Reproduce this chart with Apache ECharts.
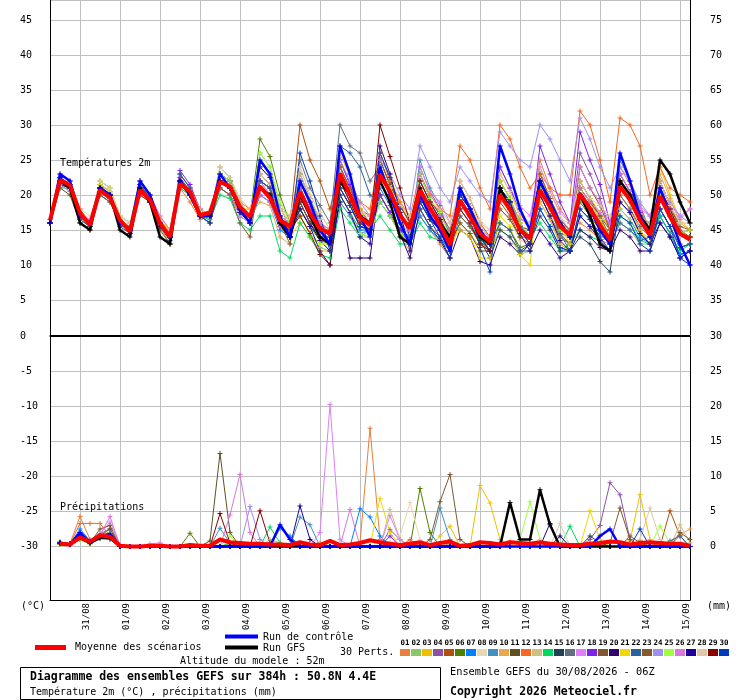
<!DOCTYPE html>
<html><head><meta charset="utf-8">
<script src="https://cdn.jsdelivr.net/npm/echarts@6/dist/echarts.min.js"></script>
<style>html,body{margin:0;padding:0;background:#fff}#c{width:740px;height:700px}</style>
</head><body><div id="c"></div>
<script>
// ---- time axis ----
const days = ['30/08','31/08','01/09','02/09','03/09','04/09','05/09','06/09','07/09','08/09','09/09','10/09','11/09','12/09','13/09','14/09','15/09'];
const runHours = ['00','06','12','18'];

// ---- member colours (01..30) ----
const memberColors = ['#e8803a','#88c868','#f0c000','#9050a8','#b05010','#508000','#0080ff','#e8d8b0','#4090c0','#e8a850','#605020','#f86820','#d0c080','#00d860','#204058','#607080','#e080f8','#8020f0','#805830','#300070','#f0d800','#2860a0','#885828','#a090f0','#a0ff40','#d878d8','#200098','#e0c8a8','#880000','#0038c0'];

// ---- temperature 2m (°C), 6-hourly from 30/08 06Z ----
const tMean = [16.4, 22.1,21.4,17.4,15.7, 20.7,19.6,16.4,14.8, 20.7,19.3,16.0,14.0, 21.6,20.5,17.1,17.5, 21.9,21.2,18.3,16.9, 21.2,19.6,16.4,15.5, 20.5,17.4,15.2,14.5, 23.1,20.0,16.8,15.7, 22.9,20.5,17.1,15.2, 20.7,18.1,15.7,12.9, 19.3,16.9,14.5,13.3, 20.0,17.9,15.0,13.8, 20.7,18.3,15.5,14.3, 20.2,18.1,15.7,13.6, 21.2,19.3,16.4,14.3, 19.8,16.9,14.5,13.6];
const tCtl = [16, 23,22,17,16, 21,20,16,15, 22,20,16,14, 22,20,17,17, 23,21,18,16, 25,23,17,14, 22,19,15,13, 27,23,17,14, 24,20,16,13, 20,17,15,12, 21,18,15,13, 27,23,18,15, 22,19,16,14, 20,18,15,13, 26,22,17,14, 21,17,13,10];
const tGfs = [16, 22,21,16,15, 21,20,15,14, 21,19,14,13, 22,20,17,17, 22,21,18,17, 21,20,16,14, 20,17,14,13, 22,20,17,16, 22,19,14,13, 21,18,16,14, 19,17,14,13, 21,18,15,14, 22,19,16,14, 20,17,13,12, 22,20,17,15, 25,23,19,16];
const t01 = [16, 22,21,17,16, 22,21,16.5,15, 21,19,15.5,13, 21,19,16.5,17, 23,22,19,18, 23,21.5,18,17, 23,19.5,16.5,14, 20,17.5,14.5,14, 25,21.5,18.5,16, 17,15,13,11, 20,18,14.5,13, 20,18,15.5,15, 25,21,18,16, 16,15,13.5,13, 24,21.5,18,15, 21,18,14.5,14];
const t02 = [16, 21,21,17,16, 21,20,17,16, 22,20,16,15, 22,21,18,17, 24,22.5,18.5,16, 26,24,18.5,15, 17,14.5,12.5,12, 19,17,14,14, 24,21,17.5,15, 23,19.5,17.5,14, 21,18.5,14.5,12, 15,14,11.5,12, 22,19,15.5,14, 24,21,18.5,15, 16,15,13,13, 21,18,14.5,14];
const t03 = [16, 22,22,18,16, 20,19,16,15, 21,20,16,14, 23,21,18,17, 21,20,18,18, 22,21,16,14, 16,14,12,12, 24,21,17.5,16, 26,22.5,19,16, 18,15.5,14,12, 16,14.5,12.5,13, 23,20.5,17,15, 19,16.5,13,12, 22,19.5,17.5,15, 20,18,15,13, 24,20,16.5,15];
const t04 = [16, 23,22,17,16, 21,20,16,15, 20,19,16,15, 23,21,18,17, 22,21,17.5,16, 20,19,15.5,15, 22,18.5,16,14, 25,21.5,18,16, 20,17.5,15,14, 24,20.5,18,14, 18,16,13,12, 21,19,15.5,14, 23,19.5,16.5,15, 26,23,19.5,15, 22,20,16.5,14, 17,14.5,11.5,12];
const t05 = [16, 22,21,18,16, 21,20,16,15, 21,19,16,14, 22,20,17,17, 21,20,17.5,17, 24,22.5,18,16, 30,25,22,18, 24,21,18,17, 20,17.5,14.5,13, 19,16.5,15,13, 22,19.5,16,14, 19,17,14,13, 20,17,14,13, 24,21,18.5,15, 23,20.5,17.5,15, 22,18.5,15,14];
const t06 = [16, 22,21,17,16, 21,20,16,15, 21,19,16,15, 21,20,17,16, 23,22,18.5,17, 28,25.5,20,16, 18,15.5,13.5,13, 21,18.5,15.5,15, 24,21,17.5,15, 22,19,17.5,15, 20,18,14,12, 16,15,12.5,13, 21,18,15,14, 19,17,15,13, 22,20,16.5,14, 21,18,14.5,14];
const t07 = [16, 22,21,17,16, 20,19,16,15, 22,20,16,14, 22,20,17,17, 23,22,18,16, 20,19,15,14, 21,18,15,13, 20,17.5,15,15, 21,18.5,15,13, 17,15,13.5,12, 17,15.5,13.5,14, 21,19,15.5,14, 18,15.5,12.5,12, 17,15.5,15,15, 18,16.5,14,13, 17,14.5,11.5,12];
const t08 = [16, 23,22,18,17, 21,20,17,16, 22,20,17,15, 21,20,17,18, 22,21,18,17, 24,22.5,18,16, 24,20,17.5,15, 26,22.5,18.5,16, 23,20,17.5,16, 20,17,16,14, 22,19.5,16.5,15, 18,16.5,13.5,13, 24,20.5,17,15, 21,19,17,15, 20,18,16,15, 22,18.5,16,16];
const t09 = [16, 22,21,17,16, 21,20,16,15, 21,19,16,14, 22,21,17,17, 21,20,17,16, 22,21,16.5,15, 23,19.5,16,13, 19,17,14.5,15, 19,17,14.5,14, 25,21,18.5,14, 19,17,13.5,12, 21,19,15,13, 20,17,14.5,14, 21,19,16.5,14, 25,22,18.5,15, 18,15.5,12.5,13];
const t10 = [16, 22,21,17,16, 22,21,17,16, 20,19,16,14, 22,21,18,17, 22,21,18,17, 19,18.5,14,13, 22,18.5,16,14, 24,21,17.5,16, 20,17.5,14,12, 22,19,16.5,13, 21,18.5,15.5,14, 22,19.5,16,14, 19,16.5,13,12, 22,19.5,17,14, 20,18,15,13, 23,19.5,16,15];
const t11 = [16, 21,20,16,15, 21,20,16,15, 20,19,15,13, 22,20,17,17, 22,21,18,17, 21,20,16,15, 19,16,14,13, 22,19,16,15, 24,21,17.5,15, 20,17,15.5,13, 16,14.5,12,12, 18,16.5,14,14, 21,18,14.5,13, 20,18,16,14, 22,20,17,15, 21,18,14.5,14];
const t12 = [16, 22,21,17,16, 21,20,16,15, 21,19,16,14, 22,20,17,17, 22,21,18,17, 22,20,17,16, 21,18,16,15, 24,21,19,18, 26,22,19,17, 23,20,18,17, 27,25,21,18, 30,28,24,21, 23,21,20,20, 32,30,25,19, 31,30,27,20, 24,21,20,19];
const t13 = [16, 22,21,17,16, 21,20,16,15, 22,20,17,15, 22,20,17,17, 24,22.5,19,17, 22,21,16.5,15, 23,19.5,16.5,14, 21,18.5,16,16, 24,21,17.5,15, 21,18,16.5,14, 20,18,15,14, 22,19.5,16,14, 20,17,14,13, 21,19,16.5,14, 22,20,17,15, 20,17,14,14];
const t14 = [16, 21.5,21,17,16, 21.5,20,16.5,15.5, 20.5,19,16,14.5, 21,20,17,16.5, 20,19.5,16,15, 17,17,12,11, 16,14,11.5,11, 18,16,14,15, 17,15,13,13, 16,14,13.5,13, 18,16,13.5,13, 21,19,15.5,14, 16,14,12,13, 15,14,13.5,14, 17,16,13.5,13, 17,14.5,12,13];
const t15 = [16.5, 22.5,21.5,17.5,16, 20.5,19.5,15.5,14.5, 21.5,19.5,15.5,13.5, 22.5,20.5,17.5,17, 22,21,18,17, 21,20,16,15, 18,15.5,14,14, 21,18.5,15.5,15, 20,17.5,15,14, 19,16.5,15,13, 20,18,13.5,11, 15,14,12,13, 17,15,12,12, 14,13,10.5,9, 19,17.5,14.5,13, 18,15.5,12.5,13];
const t16 = [16, 21.5,20.5,16.5,15.5, 21,20,16,15, 22,20,16.5,14, 22,20,17,17, 22,21,18,17, 21,20,16,15, 25,21,18.5,16, 30,27,26,22, 24,21,17.5,15, 20,17,15.5,13, 19,17,14,13, 21,19,15.5,14, 20,17,14,13, 22,19.5,17,14, 20,18,15.5,14, 21,18,14.5,14];
const t17 = [16, 22,21.5,17.5,16.5, 21,20,17,16, 21,19,16,15, 22,20,17,17, 21,20,17,16, 22,21,17,16, 20,17,14.5,13, 25,21.5,17.5,15, 23,20,16.5,14, 24,20.5,19,16, 20,18,15,14, 24,21,18.5,17, 24,20.5,17.5,16, 24,21,19,16, 22,20,18,17, 22,18.5,17,18];
const t18 = [16, 22.5,21.5,17,16, 21.5,20.5,16,15, 21.5,19.5,16,14, 23.5,21.5,18,17, 23,22,18.5,17, 22,21,16.5,15, 21,18,15.5,14, 25,21.5,17,14, 20,17.5,15,14, 23,19.5,17,13, 21,18.5,15,13, 24,21,17.5,15, 27,23,19,16, 29,25,21.5,16, 23,20.5,17.5,15, 21,18,14.5,14];
const t19 = [16, 22,21,17,16, 20,19,16,15, 21,19,16,14, 22,20,17,16, 21,20,16,14, 23,21.5,16,13, 21,18,15.5,14, 24,21,17.5,16, 25,21.5,18.5,16, 21,18,16.5,14, 17,15.5,13,13, 20,18,15.5,15, 22,19,16,15, 20,18,16,14, 22,20,17,15, 22,18.5,15.5,15];
const t20 = [16, 21.5,21,17,15.5, 21,20,16,14.5, 20.5,19,15.5,14, 22,20,17,17, 22,21,17.5,16, 22,21,16,14, 19,16,13.5,12, 19,11,11,11, 22,19,14.5,11, 18,15.5,13.5,11, 15,14,10.5,10, 14,13,11.5,13, 20,17,13.5,12, 15,14,12.5,12, 15,14,12,12, 16,14,11,12];
const t21 = [16, 22,21.5,17,16, 21.5,20.5,16.5,15.5, 21,19.5,16.5,15, 22,20,17.5,17, 23,22,18.5,17, 22,21,16.5,15, 17,14.5,13,13, 26,22.5,18,15, 24,21,16.5,13, 21,18,16,13, 15,14,11,11, 17,15.5,11.5,10, 23,19.5,15.5,13, 21,19,16.5,14, 18,16.5,14.5,14, 21,18,14.5,14];
const t22 = [16, 22,21,16.5,15.5, 21,20,16,15, 21.5,19.5,16,14, 22,20,17,17, 23,22,18.5,17, 21,20,15.5,14, 21,18,15,13, 27,26,24,20, 19,17,14.5,14, 18,15.5,14,12, 21,18.5,15,13, 16,15,12,12, 22,19,14.5,12, 18,16.5,14.5,13, 16,15,13.5,14, 18,15.5,12.5,13];
const t23 = [16, 22,21,17.5,16, 21,20,16,15.5, 21,19,16,14.5, 22.5,20.5,17,17, 22,21,18,17, 21,20,16.5,16, 19,16,15,15, 23,20,16.5,15, 25,21.5,18.5,16, 22,19,17.5,15, 20,18,14.5,13, 22,19.5,16,14, 23,19.5,16.5,15, 21,19,17,15, 21,19,17,16, 20,17,14.5,15];
const t24 = [16, 21.5,20.5,17,16, 21,20,16,15, 21,19,16,14, 22,20,17,17.5, 22,21,18,17, 22,20,17,16, 22,19,16,15, 25,22,19,17, 25,23,20,18, 27,24,21,19, 24,22,20,19, 29,27,25,24, 30,28,25,22, 31,28,24,21, 24,22,19,17, 21,19,17,16];
const t25 = [16, 22,21,17,16, 22,21,17,16, 22,20,16,15, 22,20,17,17, 23,22,18.5,17, 26,24,19,16, 17,14.5,13,13, 20,17.5,14.5,14, 19,17,14.5,14, 23,19.5,17.5,14, 20,18,14.5,13, 22,19.5,16,14, 21,18,15,14, 20,18,16,14, 22,20,17,15, 20,17,14.5,15];
const t26 = [16, 22,21,17,16, 21,20,16,15, 22,20,17,15, 22,20,17,17, 22,21,18,17, 20,19,15.5,15, 21,18,16,15, 22,19,16.5,16, 23,20,17,15, 21,18,17,15, 18,16,14,14, 21,19,16.5,16, 22,19,16,15, 21,19,17.5,16, 23,20.5,18.5,17, 21,18,16.5,18];
const t27 = [16, 22.5,21.5,17,16, 21,20,16,15, 21,19,16,14, 22,20,17,17, 22,21,17.5,16, 24,22.5,17,14, 18,15.5,12,10, 20,17.5,14,13, 27,23,17.5,12, 22,19,16.5,13, 20,18,14,12, 21,19,14.5,12, 15,13,11,12, 17,15.5,13.5,12, 19,17.5,14.5,13, 16,14,11,12];
const t28 = [16, 22,21,17,16, 22,21,17,16, 21,19,16,15, 23,21,18,17, 24,22.5,19.5,18, 23,21.5,18,17, 24,20,17.5,15, 23,20,17.5,17, 24,21,18.5,17, 22,19,18,16, 21,18.5,16,15, 23,20.5,17.5,16, 22,19,16.5,16, 22,19.5,18.5,17, 21,19,17,16, 22,18.5,16,16];
const t29 = [16, 22,21,17,16, 21,20,16,15, 21,19,16,14, 22,20,17,17, 22,21,18,17, 21,20,16,15, 17,14.5,11.5,10, 22,19,16,15, 30,25.5,21,16, 22,19,16.5,13, 18,16,13,12, 21,19,15,13, 22,19,15.5,14, 20,18,15.5,13, 22,20,16.5,14, 21,18,14.5,14];
const t30 = [16, 22,21,17,16, 21,20,16,15, 21,19,16,14, 23,21,17,16, 22,21,18,17, 22,21,16,14, 26,22,17,12, 21,18.5,15.5,15, 26,22.5,18,14, 19,16.5,14,11, 20,18,12.5,9, 21,19,15,13, 18,15.5,12.5,12, 18,16.5,14,12, 17,16,13,12, 18,15.5,11,10];

// ---- precipitation (mm / 6h) ----
const pMean = [null, .4,.3,1.3,.7, 1.6,1.4,.1,0, 0,.1,.1,0, 0,.2,.1,.1, 1,.6,.5,.4, .4,.3,.3,.2, .6,.3,.2,.8, .2,.3,.5,.9, .6,.4,.2,.4, .6,.2,.5,.7, .1,.2,.6,.5, .3,.6,.5,.4, .6,.4,.3,.2, .2,.4,.5,.7, .6,.3,.5,.6, .5,.4,.4,.1];
const pCtl = [null, .5,.3,2,.6, 1.5,1.8,0,0, 0,0,0,0, 0,0,0,0, 0,0,0,0, 0,0,3.1,1, 0,0,0,0, 0,0,0,0, 0,0,0,0, 0,0,0,0, 0,0,0,0, 0,0,0,0, 0,0,0,0, 0,0,1.5,2.5, 0,0,0,0, 0,0,0,0];
const pGfs = [null, .4,.3,1.2,.5, 1.2,1.2,0,0, 0,0,0,0, 0,0,0,0, 0,0,0,0, 0,0,0,0, 0,0,0,0, 0,0,0,0, 0,0,0,0, 0,0,0,0, 0,0,0,0, 0,6.3,1,1, 8.1,3.1,0,0, 0,0,0,0, 0,0,0,0, 0,0,0,0];
const p01 = [null, .5,.4,4.3,1, 1.5,1.2,0,0, 0,0,0,0, 0,0,0,0, 0,.3,0,0, 0,0,0,0, 0,.2,.5,0, 0,0,.5,16.9, 1,.3,0,0, 0,0,0,.4, 0,0,0,0, .3,0,0,0, 0,0,0,0, 0,.5,0,0, 0,0,0,0, 0,.4,0,0];
const p02 = [null, .4,.3,1.2,.5, 1.5,2,0,0, 0,0,0,0, 0,0,0,0, 0,0,0,0, 0,1,.5,0, 0,0,0,0, 0,0,0,0, 0,.5,0,0, 0,0,0,0, 0,0,0,0, .5,0,0,0, 0,0,0,0, 0,0,0,0, 0,0,0,0, 0,0,0,0];
const p03 = [null, .3,.2,1,.4, 1.2,1,0,0, 0,0,0,0, 0,0,0,0, 0,0,0,0, 0,0,0,0, 0,0,0,0, 0,0,0,0, 0,0,0,0, 0,0,1.5,2.9, 0,0,8.7,6.2, 1,0,0,0, 0,0,0,0, 0,0,0,0, 0,.8,7.4,1, 0,0,0,0];
const p04 = [null, .5,.4,1.5,.8, 1.8,2.5,0,0, 0,0,0,0, 0,0,0,0, 0,0,0,0, 0,0,0,0, 0,0,0,0, 0,0,0,0, 0,2.4,1,0, 0,0,0,0, 0,0,0,0, .5,0,0,0, 0,0,0,0, 0,1,3,9.1, 7.4,1,0,0, 0,0,0,0];
const p05 = [null, .4,.3,1,.6, 1.4,1.5,0,0, 0,0,0,0, 0,0,0,0, 0,0,0,0, 0,0,0,0, 0,0,0,0, 0,0,0,0, 0,0,0,0, 0,0,0,0, 0,0,0,0, 0,0,0,0, 0,0,0,0, 0,0,0,0, 0,0,.8,.5, 0,5.1,1.5,0];
const p06 = [null, .6,.4,1.3,.5, 1.5,1.6,0,0, 0,0,0,0, 0,1.9,0,0, 0,0,0,0, 0,0,0,0, 0,0,0,0, 0,0,0,0, 0,0,0,0, 8.3,2,0,0, 0,0,0,0, 0,0,0,0, .5,0,0,0, 0,0,0,0, 0,0,.6,0, 0,0,0,0];
const p07 = [null, .5,.3,2.5,.8, 1.6,1.5,0,0, 0,0,0,0, 0,0,0,0, 0,0,0,0, 0,0,2.6,1.5, 0,0,0,0, 0,0,5.4,4.2, 1.5,0,0,0, 0,0,0,0, 0,0,0,0, 0,0,0,0, 0,0,0,0, 0,0,0,0, 0,0,0,0, 0,0,0,0];
const p08 = [null, .3,.3,1.1,.5, 1.3,1.2,0,0, 0,0,0,0, 0,0,0,0, 0,0,0,0, 0,0,0,0, 0,0,0,0, 0,0,0,0, 0,0,1.5,6.3, 1,0,0,0, 0,0,0,0, 0,0,0,0, 0,0,0,0, 0,0,0,0, 0,0,0,0, 0,0,0,0];
const p09 = [null, .4,.3,1.4,.7, 1.5,1.4,0,0, 0,0,0,0, 0,0,0,0, 2.6,.5,0,0, 0,0,0,0, 4.2,3.1,0,0, 0,0,0,0, 0,0,0,0, 0,0,5.5,1, 0,0,0,0, 0,0,0,0, 0,0,0,0, 0,0,0,0, 0,0,0,0, 0,0,0,0];
const p10 = [null, .5,.4,1.8,.6, 1.7,1.6,.2,0, 0,0,0,0, 0,0,0,0, 0,0,0,0, 0,0,0,0, 0,0,0,0, 0,0,0,0, 0,0,0,0, 0,0,0,0, 0,0,0,0, 0,.8,0,0, 0,0,0,0, 0,0,0,0, 0,0,0,0, 0,0,1.6,2.5];
const p11 = [null, .5,.4,1.6,.6, 1.5,2.5,0,0, 0,0,0,0, 0,0,0,.8, 13.3,2,0,0, 0,0,0,0, 0,0,0,0, 0,0,0,0, 0,0,0,0, 0,0,0,0, 0,0,0,0, 0,0,0,0, 0,0,0,0, 0,0,0,0, 0,0,0,0, 0,0,0,0];
const p12 = [null, .6,.3,3.3,3.3, 3.3,1.5,0,0, 0,0,0,0, 0,0,0,0, 0,0,0,0, 0,0,0,0, 0,0,0,0, 0,0,0,0, 0,0,0,1, 0,0,0,0, 0,0,0,0, 0,0,0,0, 0,0,0,0, 0,0,0,0, 0,0,0,0, 0,.4,0,0];
const p13 = [null, .4,.3,1.2,.6, 1.4,1.3,0,0, 0,0,0,0, 0,0,0,0, 0,0,0,0, 0,0,0,0, 0,0,0,0, 0,0,0,0, 0,5.3,1,0, 0,0,0,0, 0,0,0,0, 0,0,0,0, 0,0,0,0, 0,0,0,0, 0,0,0,0, 0,0,3.1,.5];
const p14 = [null, .3,.2,1,.4, 1.2,1,0,0, 0,0,0,0, 0,0,0,0, 0,.5,0,0, 0,2.8,.5,0, 0,0,0,0, 0,0,0,0, 0,0,0,0, 0,0,0,0, 0,0,0,0, 0,0,0,0, 0,0,0,2.9, 0,0,0,0, 0,0,0,0, 0,0,0,0];
const p15 = [null, .5,.3,1.3,.5, 1.4,1.2,0,0, 0,0,0,0, 0,0,0,0, 0,0,0,0, 0,0,0,0, 0,0,0,0, 0,0,0,0, 0,0,0,0, 0,0,0,0, 0,0,0,0, 0,0,0,0, 0,0,0,0, 0,1.5,.5,0, 0,0,0,0, 0,0,0,0];
const p16 = [null, .4,.3,1.5,.6, 1.5,1.3,0,0, 0,0,0,0, 0,0,0,0, 0,0,0,0, 0,0,0,0, 0,0,0,0, 0,0,0,0, 0,0,0,0, 0,0,0,0, 0,0,0,0, 0,0,0,0, 0,0,0,0, 0,0,0,0, 0,0,0,0, 0,0,0,0];
const p17 = [null, .5,.3,1.4,.5, 1.8,3.5,.3,0, 0,.4,.5,0, 0,0,0,0, 0,0,0,0, 0,0,0,0, 0,0,2,20.3, 1,0,0,0, 0,4.4,1,0, 0,0,0,0, 0,0,0,0, 0,0,0,0, 0,0,0,0, 0,0,0,0, 0,0,0,0, 0,0,0,0];
const p18 = [null, .4,.3,1.2,.5, 1.2,1.1,0,0, 0,0,0,0, 0,0,0,0, 0,0,0,0, 0,0,0,0, 0,0,0,0, 0,0,0,0, 0,1.5,0,0, 0,0,0,0, 0,0,0,0, 0,0,0,0, 0,0,0,0, 0,0,0,0, 0,0,0,0, 0,0,0,0];
const p19 = [null, .4,.3,1.3,.5, 2.5,3,0,0, 0,0,0,0, 0,0,0,0, 0,0,0,0, 0,0,0,0, 0,0,0,0, 0,0,0,0, 0,0,0,0, 0,1,6.4,10.3, 1,0,0,0, 0,0,0,0, 0,0,0,0, 0,0,0,.5, 5.5,1,0,0, 0,0,0,0];
const p20 = [null, .5,.3,1.6,.5, 1.5,1.4,0,0, 0,0,0,0, 0,0,0,0, 0,0,0,0, 0,0,0,0, 0,0,0,0, 0,0,0,0, 0,0,0,0, 0,0,0,0, 0,0,0,0, 0,0,0,0, 0,0,1.5,0, 0,0,0,0, 0,0,0,0, 0,0,0,0];
const p21 = [null, .3,.3,1.1,.4, 1.3,1.2,0,0, 0,0,0,0, 0,0,0,0, 0,0,0,0, 0,0,0,0, 0,0,0,0, 0,0,0,0, 6.9,2,0,0, 0,0,0,0, 0,0,0,0, 0,0,0,0, 0,0,0,0, 0,5.1,1,0, 0,0,0,0, 0,0,0,0];
const p22 = [null, .5,.4,1.5,.6, 1.5,1.5,0,0, 0,0,0,0, 0,0,0,0, 0,0,0,0, 0,0,0,0, 0,0,0,0, 0,0,0,0, 0,0,0,0, 0,0,0,0, 0,0,0,0, 0,0,0,0, 0,0,0,0, 0,0,0,0, 0,0,0,0, 0,.8,1.5,0];
const p23 = [null, .4,.3,1.8,.6, 1.5,1.4,0,0, 0,0,0,0, 0,0,0,0, 0,0,0,0, 0,0,0,0, 0,0,0,0, 0,0,0,0, 0,0,0,0, 0,0,0,0, 0,0,0,0, 0,0,0,0, 0,0,0,0, 0,0,0,0, 0,1.5,.5,0, 0,0,2,1];
const p24 = [null, .4,.3,1.3,.5, 1.6,1.5,0,0, 0,0,0,0, 0,0,0,0, 0,0,0,5.7, 1,0,0,0, 0,0,0,0, 0,0,0,0, 0,0,0,0, 0,0,0,0, 0,0,0,0, 0,0,0,0, 0,0,0,0, 0,0,0,0, 0,0,0,0, 0,0,0,0];
const p25 = [null, .3,.3,.9,.4, 1.2,1.3,0,0, 0,0,0,0, 0,0,0,0, 0,1.5,0,0, 0,0,0,0, 0,0,0,0, 0,0,0,0, 0,0,0,0, 0,0,0,0, 0,0,0,0, 0,0,1,6.4, 1,0,0,0, 0,0,0,0, 0,0,0,0, 2.9,.5,0,0];
const p26 = [null, .5,.3,1.5,.7, 1.6,4.3,0,0, 0,0,0,0, 0,0,0,0, 0,4.5,10.3,2, 0,0,0,0, 0,0,0,0, 0,5.3,0,0, 0,0,0,0, 0,0,0,0, 0,0,0,0, 0,0,0,0, 0,0,0,0, 0,0,0,0, 0,0,0,0, 0,0,0,0];
const p27 = [null, .5,.4,1.6,.6, 1.4,1.4,0,0, 0,0,0,0, 0,0,0,0, 0,0,0,0, 0,0,0,0, 5.8,1,0,0, 0,0,0,0, 0,0,0,0, 0,0,0,0, 0,0,0,0, 0,0,0,0, 0,3.3,0,0, 0,0,0,0, 0,0,0,0, 0,0,0,0];
const p28 = [null, .4,.3,1.2,.5, 1.3,1.2,0,0, 0,0,0,0, 0,0,0,0, 0,0,0,0, 0,0,0,0, 0,0,0,0, 0,0,0,0, 0,0,0,0, 0,0,0,0, 0,0,0,0, 0,0,0,0, 0,0,3.3,0, 0,0,0,0, 0,0,1,5.5, 1,0,0,0];
const p29 = [null, .5,.3,1.4,.5, 1.4,1.4,0,0, 0,0,0,0, 0,0,0,0, 4.7,.5,0,0, 5.1,.5,0,0, 0,0,0,0, 0,0,0,0, 0,0,0,0, 0,0,0,0, 0,0,0,0, 0,0,0,0, 0,0,0,0, 0,0,0,0, 0,0,0,0, 0,0,0,0];
const p30 = [null, .6,.4,1.6,.7, 1.5,1.3,0,0, 0,0,0,0, 0,0,0,0, 0,0,0,0, 0,0,0,0, 0,0,0,0, 0,0,0,0, 0,0,0,0, 0,0,0,0, 0,0,0,0, 0,0,0,0, 0,0,0,0, 0,0,0,0, 0,0,2.5,0, 0,0,0,0];

const tMembers = [t01,t02,t03,t04,t05,t06,t07,t08,t09,t10,t11,t12,t13,t14,t15,t16,t17,t18,t19,t20,t21,t22,t23,t24,t25,t26,t27,t28,t29,t30];
const pMembers = [p01,p02,p03,p04,p05,p06,p07,p08,p09,p10,p11,p12,p13,p14,p15,p16,p17,p18,p19,p20,p21,p22,p23,p24,p25,p26,p27,p28,p29,p30];

// categories: 30/08 06Z .. 15/09 06Z every 6h
const cats = [];
for (let d = 0; d < days.length; d++) for (let h = 0; h < 4; h++) {
  if (d === 0 && h === 0) continue;
  if (cats.length >= tMean.length) break;
  cats.push(days[d] + ' ' + runHours[h]);
}

const MONO = '"DejaVu Sans Mono", "Liberation Mono", monospace';
const GRID = '#c0c0c0';
const PLUS = 'path://M2,0H3V2H5V3H3V5H2V3H0V2H2Z';
const isDay = (i, v) => String(v).endsWith(' 00');
const PX = 7;            // pixels per unit on both panels
const TOP_H = 335;       // height of the temperature panel
const TOP_MAX = TOP_H / PX;

function ser(name, data, color, width, xi, yi, z, sym) {
  return {
    name, type: 'line', data, xAxisIndex: xi, yAxisIndex: yi, z,
    clip: false, animation: false, silent: true, connectNulls: false,
    lineStyle: { color, width }, itemStyle: { color },
    symbol: sym ? PLUS : 'none', symbolSize: 5, showSymbol: !!sym, showAllSymbol: true
  };
}

const series = [];
tMembers.forEach((d, k) => series.push(ser('T' + (k + 1), d, memberColors[k], 1, 0, 0, 2, true)));
series.push(ser('T GFS', tGfs, '#000000', 2.5, 0, 0, 3, true));
series.push(ser('T Ctl', tCtl, '#0000ff', 2.5, 0, 0, 3, true));
series.push(ser('T Mean', tMean, '#ff0000', 4, 0, 0, 4, false));
pMembers.forEach((d, k) => series.push(ser('P' + (k + 1), d, memberColors[k], 1, 1, 3, 2, true)));
series.push(ser('P GFS', pGfs, '#000000', 2.5, 1, 3, 3, true));
series.push(ser('P Ctl', pCtl, '#0000ff', 2.5, 1, 3, 3, true));
series.push(ser('P Mean', pMean, '#ff0000', 4, 1, 3, 4, false));

const lbl = { fontFamily: MONO, fontSize: 10, color: '#000' };
function xAx(gi, pos, labels) {
  return {
    type: 'category', gridIndex: gi, data: cats, boundaryGap: false, position: pos,
    axisLine: { show: true, lineStyle: { color: '#000', width: 1 } },
    axisTick: { show: false },
    axisLabel: labels ? { show: true, interval: isDay, rotate: 90, formatter: v => v.split(' ')[0],
      fontFamily: MONO, fontSize: 9, color: '#000', margin: 3, verticalAlign: 'top', padding: [2, 0, 0, 0] } : { show: false },
    splitLine: { show: true, interval: isDay, lineStyle: { color: GRID, width: 1 } }
  };
}
function yAx(gi, pos, min, max, showLabels, split) {
  return {
    type: 'value', gridIndex: gi, position: pos, min, max, interval: 5,
    axisLine: { show: true, onZero: false, lineStyle: { color: '#000', width: 1 } },
    axisTick: { show: false },
    axisLabel: showLabels ? Object.assign({ align: 'left', margin: pos === 'left' ? 30 : 20, padding: [6, 0, 0, 0] }, lbl) : { show: false },
    splitLine: { show: split, lineStyle: { color: GRID, width: 1 } }
  };
}

const yAxes = [
  yAx(0, 'left', 0, TOP_MAX, true, true),
  yAx(0, 'right', 30, 30 + TOP_MAX, true, false),
  yAx(1, 'left', -30, 0, true, true),
  yAx(1, 'right', 0, 30, true, false),
  yAx(2, 'left', 0, 5, false, false),
  yAx(2, 'right', 0, 5, false, false)
];
yAxes[0].axisLabel.showMinLabel = false;
yAxes[0].axisLabel.showMaxLabel = false;
yAxes[1].axisLabel.showMinLabel = false;
yAxes[1].axisLabel.showMaxLabel = false;

function txt(x, y, text, font, align) {
  return { type: 'text', x: 0, y: 0, silent: true, z: 10,
    style: { x, y, text, font, fill: '#000', align: align || 'left', verticalAlign: 'middle',
      textAlign: align || 'left', textVerticalAlign: 'middle' } };
}
const F10 = '10px ' + MONO;
const graphics = [
  txt(60, 163, 'Températures 2m', F10),
  txt(60, 507, 'Précipitations', F10),
  txt(21, 606, '(°C)', F10),
  txt(707, 606, '(mm)', F10),
  { type: 'rect', silent: true, shape: { x: 35, y: 645, width: 31, height: 5 }, style: { fill: '#ff0000' } },
  txt(75, 647.5, 'Moyenne des scénarios', F10),
  { type: 'rect', silent: true, shape: { x: 225, y: 634.5, width: 33, height: 4 }, style: { fill: '#0000ff' } },
  txt(263, 637, 'Run de contrôle', F10),
  { type: 'rect', silent: true, shape: { x: 225, y: 645.5, width: 33, height: 4 }, style: { fill: '#000000' } },
  txt(263, 648, 'Run GFS', F10),
  txt(180, 661, 'Altitude du modele : 52m', F10),
  txt(340, 652, '30 Perts.', F10),
  { type: 'rect', silent: true, shape: { x: 20.5, y: 667.5, width: 420, height: 32 }, style: { fill: 'none', stroke: '#000', lineWidth: 1 } },
  txt(30, 677.5, 'Diagramme des ensembles GEFS sur 384h : 50.8N 4.4E', 'bold 11.5px ' + MONO),
  txt(30, 692, 'Température 2m (°C) , précipitations (mm)', F10),
  txt(450, 672, 'Ensemble GEFS du 30/08/2026 - 06Z', '10.3px ' + MONO),
  txt(450, 692, 'Copyright 2026 Meteociel.fr', 'bold 11.5px ' + MONO)
];
memberColors.forEach((c, k) => {
  graphics.push({ type: 'rect', silent: true, shape: { x: 400 + 11 * k, y: 649, width: 10, height: 7 }, style: { fill: c } });
  graphics.push(txt(405 + 11 * k, 643, String(k + 1).padStart(2, '0'), 'bold 7.5px ' + MONO, 'center'));
});

const chart = echarts.init(document.getElementById('c'), null, { renderer: 'canvas' });
chart.setOption({
  animation: false,
  backgroundColor: '#ffffff',
  textStyle: { fontFamily: MONO },
  grid: [
    { left: 50, width: 640, top: 0, height: TOP_H },
    { left: 50, width: 640, top: 336.5, height: 210 },
    { left: 50, width: 640, top: 546.5, height: 53.5 }
  ],
  xAxis: [xAx(0, 'bottom', false), xAx(1, 'top', false), xAx(2, 'bottom', true)],
  yAxis: yAxes,
  series,
  graphic: graphics
});
</script>
</body></html>
